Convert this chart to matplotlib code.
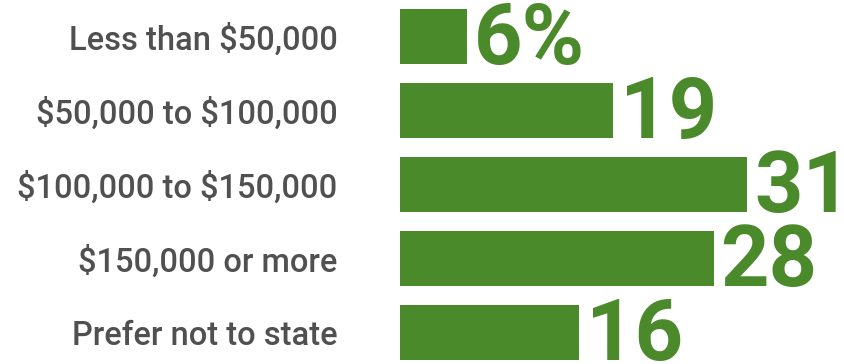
import matplotlib.pyplot as plt

plt.rcParams["text.parse_math"] = False

categories = ["Less than $50,000", "$50,000 to $100,000", "$100,000 to $150,000",
              "$150,000 or more", "Prefer not to state"]
values = [6, 19, 31, 28, 16]
value_labels = ["6%", "19", "31", "28", "16"]

green = "#4a8a2b"
gray = "#505050"

fig = plt.figure(figsize=(8.44, 3.64), dpi=100)
ax = fig.add_axes([400 / 844, 0, 444 / 844, 1])

ypos = list(range(len(categories)))
ax.barh(ypos, values, height=0.743, color=green)

ax.set_xlim(0, 444 / 11.2)
ax.set_ylim(4 + 31.5 / 74, -36.5 / 74)

ax.set_yticks(ypos)
ax.set_yticklabels(categories, fontfamily="Roboto", fontweight="medium",
                   fontsize=23.5, color=gray)
ax.tick_params(axis="y", length=0, pad=45)
ax.set_xticks([])
for s in ax.spines.values():
    s.set_visible(False)

for y, v, lab in zip(ypos, values, value_labels):
    ax.annotate(lab, xy=(v, y + 0.743 / 2), xytext=(5, 0), textcoords="offset points",
                ha="left", va="baseline", fontfamily="Roboto", fontweight="bold",
                fontsize=61, color=green)

fig.savefig("out.png", dpi=100)
